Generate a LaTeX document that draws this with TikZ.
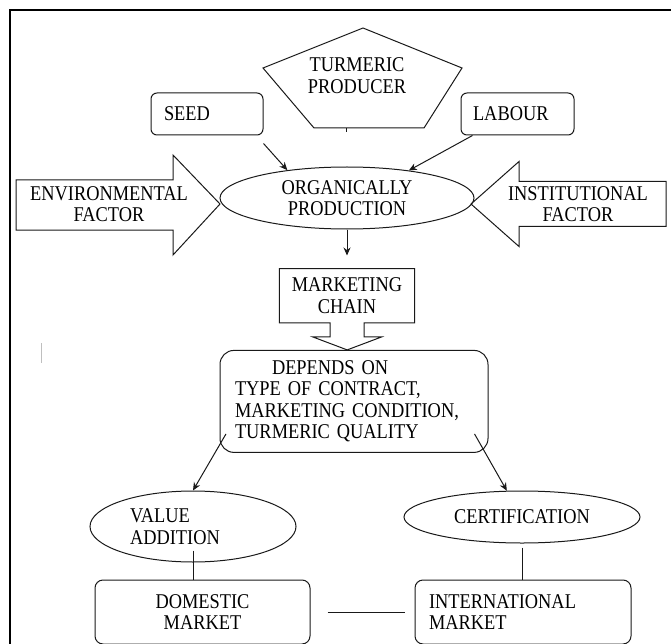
\documentclass[tikz,border=0pt]{standalone}
\usepackage{fontspec}
\setmainfont{Liberation Serif}[FakeStretch=0.875]
\usetikzlibrary{shapes.geometric, arrows.meta, positioning, calc}

\begin{document}
\begin{tikzpicture}[
            x=1pt, y=1pt,
            node distance=20pt and 20pt,
            % --- 样式定义 ---
            every node/.style={font=\fontsize{21}{21.5}\selectfont},
            box/.style={rectangle, draw=black!90, line width=1pt, rounded corners=6pt, align=left},
            oval/.style={ellipse, draw=black!90, line width=1pt, inner sep=0pt, align=center},
            fat/.style={draw=black!90, line width=1pt, line join=miter},
            line/.style={draw=black!90, line width=1pt, -{Stealth[length=8pt,width=7pt]}},
            link/.style={draw=black!90, line width=1pt}
        ]
        \useasboundingbox (0,0) rectangle (671,-644);

        % 外框
        \draw[line width=2.4pt] (10,-644) -- (10,-10) -- (671,-10);

        % --- 节点定义 ---
        \node[oval, minimum width=254pt, minimum height=62pt] (organic) at (347,-198) {ORGANICALLY\\PRODUCTION};
        \node[align=center] (producer) at (357,-75.5) {TURMERIC\\PRODUCER};
        \node[box, minimum width=112pt, minimum height=42pt, text width=86pt] (seed) at (207,-114) {SEED};
        \node[box, minimum width=113pt, minimum height=42pt, text width=89pt] (labour) at (517.5,-114) {LABOUR};
        \node[align=center] (envfactor) at (109,-204) {ENVIRONMENTAL\\FACTOR};
        \node[align=center] (instfactor) at (578,-204) {INSTITUTIONAL\\FACTOR};

        \node[below=39pt of organic, minimum width=135pt, minimum height=54pt, align=center] (chain) {MARKETING\\CHAIN};
        \node[box, rounded corners=14pt, below=27pt of chain, xshift=7pt, minimum width=268pt, minimum height=102pt,
              text width=238pt, inner xsep=15pt] (depends) {
            \hspace*{37pt}DEPENDS ON\\
            TYPE OF CONTRACT,\\
            MARKETING CONDITION,\\
            TURMERIC QUALITY
        };

        \node[oval, minimum width=206pt, minimum height=71pt, text width=126pt, align=left] (value) at (193,-526.5) {VALUE\\ADDITION};
        \node[oval, minimum width=236pt, minimum height=52pt] (cert) at (522,-517) {CERTIFICATION};
        \node[box, rounded corners=8pt, below=17pt of value, xshift=9.5pt, minimum width=215pt, minimum height=64pt,
              align=center] (domestic) {DOMESTIC\\MARKET};
        \node[box, rounded corners=8pt, right=104pt of domestic, minimum width=216pt, minimum height=64pt,
              text width=188pt, inner xsep=14pt] (intl) {INTERNATIONAL\\MARKET};

        % 外形（五边形、大箭头、箭头框）
        \draw[fat] ([shift={(6,47.5)}]producer.center) -- ++(99,-40) -- ++(-38,-60) -- ++(-110,0) -- ++(-51,60) -- cycle;
        \coordinate (stub) at (346,-128);
        \draw[fat] ([shift={(-93,24)}]envfactor.center) -- ++(157,0) -- ++(0,25) -- ++(47,-49)
          -- ++(-47,-51) -- ++(0,25) -- ++(-157,0) -- cycle;
        \draw[fat] ([xshift=-107pt]instfactor.center) -- ++(48,42.5) -- ++(0,-20) -- ++(147,0)
          -- ++(0,-45) -- ++(-147,0) -- ++(0,-20) -- cycle;
        \draw[fat] (chain.south east) -- ++(-50.5,0) -- ++(0,-14) -- ++(17.5,0) -- ++(-34.5,-13)
          -- ++(-34.5,13) -- ++(17.5,0) -- ++(0,14) -- (chain.south west) -- (chain.north west)
          -- (chain.north east) -- cycle;

        % --- 连线定义 ---
        \path[link] (stub) -- ++(0,-4);
        \path[line] ([yshift=-8pt]seed.south east) -- (organic.155);
        \path[line] ([xshift=12pt]labour.south west) -- (organic.24);
        \path[line, shorten >=13pt] (organic.south) -- (chain.north);
        \path[line] ([shift={(6.5pt,19pt)}]depends.south west) -- (value.north);
        \path[line] ([shift={(-14pt,19pt)}]depends.south east) -- (cert.120);
        \path[link] ([yshift=12pt]value.south) -- (value.south |- domestic.north);
        \path[link] ([yshift=-4pt]cert.south) -- (cert.south |- intl.north);
        \path[link, shorten <=17pt, shorten >=10pt] (domestic.east) -- (intl.west);

        % 左侧竖线
        \draw[gray!50, line width=0.8pt] (41,-343) -- (41,-363);

        \end{tikzpicture}
\end{document}
